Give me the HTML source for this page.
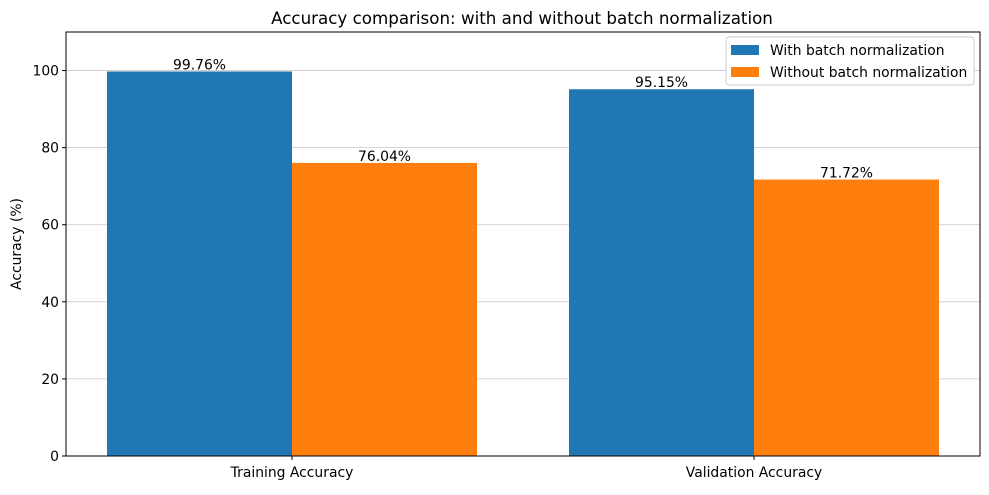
<!DOCTYPE html>
<html><head><meta charset="utf-8"><style>
body{margin:0;background:#fff;}
svg text{font-family:"DejaVu Sans","Liberation Sans",sans-serif;}
</style></head><body>
<svg id="chart" width="989" height="490" xmlns="http://www.w3.org/2000/svg">
<text x="522" y="24" font-size="16.7" text-anchor="middle" fill="#000">Accuracy comparison: with and without batch normalization</text>
<g id="grid"></g>
<g id="bars"></g>
<g id="axes"></g>
<text transform="translate(21,244) rotate(-90)" font-size="13.9" text-anchor="middle">Accuracy (%)</text>
<g>
<rect x="726" y="37" width="248" height="48" fill="#fff" stroke="#ccc" rx="3"/>
<rect x="731" y="45" width="28" height="10" fill="#1f77b4"/>
<text x="770" y="55" font-size="13.9">With batch normalization</text>
<rect x="731" y="67" width="28" height="10" fill="#ff7f0e"/>
<text x="770" y="77" font-size="13.9">Without batch normalization</text>
</g>
</svg>
<script>
const categories=["Training Accuracy","Validation Accuracy"];
const withBN=[99.76,95.15];
const withoutBN=[76.04,71.72];
const yTicks=[0,20,40,60,80,100];
const NS="http://www.w3.org/2000/svg";
const L=66,R=980,T=32,B=456,yMax=110;
const y=v=>B-(v/yMax)*(B-T);
const x=i=>292+i*462;
const bw=185;
function mk(tag,attrs,parent){const e=document.createElementNS(NS,tag);for(const k in attrs)e.setAttribute(k,attrs[k]);document.getElementById(parent).appendChild(e);return e;}
yTicks.forEach(t=>{
 if(t>0){const g=mk('line',{x1:L,x2:R,y1:y(t),y2:y(t),stroke:'#c8c8c8','stroke-width':0.8},'grid');
 
 }
 const tk=mk('line',{x1:L-4,x2:L,y1:y(t),y2:y(t),stroke:'#000'},'axes');
 
 
 const tl=mk('text',{x:L-7,y:y(t)+5,'font-size':13.9,'text-anchor':'end'},'axes');tl.textContent=t;
 
 
});
categories.forEach((c,i)=>{
 [[withBN,'#1f77b4',-1,'with'],[withoutBN,'#ff7f0e',0,'without']].forEach(([arr,col,off,nm])=>{
  const v=arr[i];const bx=x(i)+off*bw;
  const r=mk('rect',{x:bx,y:y(v),width:bw,height:B-y(v),fill:col},'bars');
  
  
  const t=mk('text',{x:bx+bw/2,y:y(v)-2,'font-size':13.9,'text-anchor':'middle'},'bars');t.textContent=v.toFixed(2)+'%';
  
  
 });
 const tk=mk('line',{x1:x(i),x2:x(i),y1:B,y2:B+4,stroke:'#000'},'axes');
 
 
 const tl=mk('text',{x:x(i),y:B+21,'font-size':13.9,'text-anchor':'middle'},'axes');tl.textContent=c;
 
 
});
const fr=mk('rect',{x:L,y:T,width:R-L,height:B-T,fill:'none',stroke:'#000','stroke-width':1},'axes');


</script>
</body></html>
